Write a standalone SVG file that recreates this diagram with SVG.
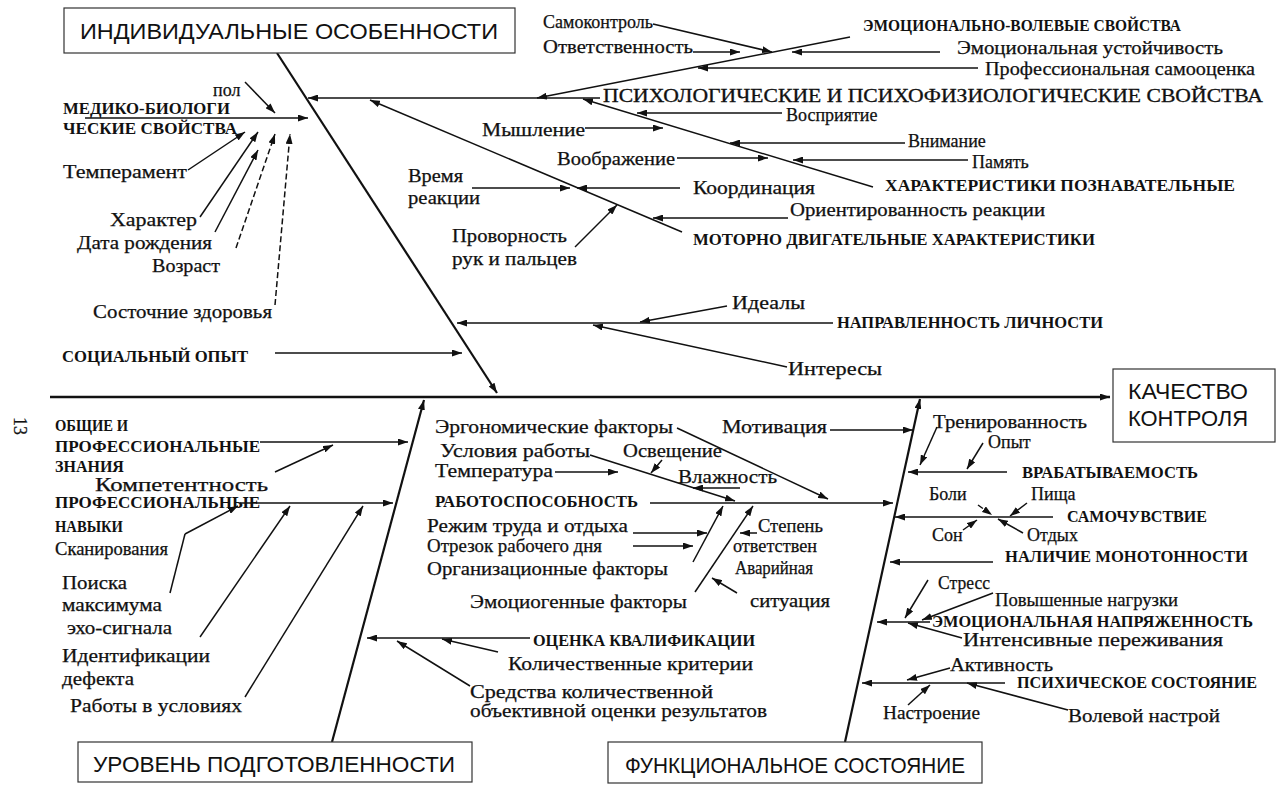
<svg xmlns="http://www.w3.org/2000/svg" width="1277" height="787" viewBox="0 0 1277 787">
<defs>
<marker id="ar" viewBox="0 0 10 7" refX="10" refY="3.5" markerWidth="10" markerHeight="7" markerUnits="userSpaceOnUse" orient="auto"><path d="M0,0 L10,3.5 L0,7 z" fill="#111"/></marker>
<style>
.t{font-family:"Liberation Serif","Times New Roman",serif;font-size:18px;fill:#111;stroke:#111;stroke-width:0.25}
.c{font-family:"Liberation Serif","Times New Roman",serif;font-size:16px;font-weight:bold;fill:#111}
.big{font-family:"Liberation Serif","Times New Roman",serif;font-size:18px;fill:#111;stroke:#111;stroke-width:0.3}
.bt{font-family:"Liberation Sans",Arial,sans-serif;font-size:22px;fill:#111}
.box{fill:#fff;stroke:#333;stroke-width:1.2}
.ln{stroke:#111;stroke-width:1.5;fill:none}
.bone{stroke:#111;stroke-width:2.2;fill:none}
.sp{stroke:#111;stroke-width:2.6;fill:none}
.d{stroke-dasharray:6 3}
</style>
</defs>
<rect width="1277" height="787" fill="#fff"/>

<g id="connectors">
<line class="sp" x1="50" y1="397" x2="1110" y2="397" marker-end="url(#ar)"/>
<line class="bone" x1="277" y1="53" x2="497" y2="393" marker-end="url(#ar)"/>
<line class="bone" x1="332" y1="742" x2="424" y2="400" marker-end="url(#ar)"/>
<line class="bone" x1="845" y1="742" x2="920" y2="399" marker-end="url(#ar)"/>

<line class="ln" x1="85" y1="118" x2="308" y2="118" marker-end="url(#ar)"/>
<line class="ln" x1="245" y1="82" x2="275" y2="113" marker-end="url(#ar)"/>
<line class="ln" x1="188" y1="170" x2="245" y2="132" marker-end="url(#ar)"/>
<line class="ln" x1="200" y1="217" x2="258" y2="132" marker-end="url(#ar)"/>
<line class="ln" x1="215" y1="232" x2="258" y2="150" marker-end="url(#ar)"/>
<line class="ln d" x1="236" y1="248" x2="275" y2="134" marker-end="url(#ar)"/>
<line class="ln d" x1="275" y1="305" x2="290" y2="134" marker-end="url(#ar)"/>
<line class="ln" x1="275" y1="353" x2="462" y2="353" marker-end="url(#ar)"/>

<line class="ln" x1="600" y1="98" x2="308" y2="98" marker-end="url(#ar)"/>
<line class="ln" x1="850" y1="37" x2="537" y2="98" marker-end="url(#ar)"/>
<line class="ln" x1="653" y1="24" x2="772" y2="52" marker-end="url(#ar)"/>
<line class="ln" x1="693" y1="52" x2="740" y2="52" marker-end="url(#ar)"/>
<line class="ln" x1="940" y1="52" x2="792" y2="52" marker-end="url(#ar)"/>
<line class="ln" x1="978" y1="68" x2="698" y2="68" marker-end="url(#ar)"/>
<line class="ln" x1="873" y1="187" x2="583" y2="99" marker-end="url(#ar)"/>
<line class="ln" x1="782" y1="113" x2="637" y2="113" marker-end="url(#ar)"/>
<line class="ln" x1="585" y1="128" x2="663" y2="128" marker-end="url(#ar)"/>
<line class="ln" x1="905" y1="143" x2="730" y2="143" marker-end="url(#ar)"/>
<line class="ln" x1="677" y1="158" x2="768" y2="158" marker-end="url(#ar)"/>
<line class="ln" x1="968" y1="160" x2="793" y2="160" marker-end="url(#ar)"/>
<line class="ln" x1="682" y1="232" x2="370" y2="100" marker-end="url(#ar)"/>
<line class="ln" x1="472" y1="188" x2="570" y2="188" marker-end="url(#ar)"/>
<line class="ln" x1="680" y1="188" x2="577" y2="188" marker-end="url(#ar)"/>
<line class="ln" x1="788" y1="218" x2="653" y2="218" marker-end="url(#ar)"/>
<line class="ln" x1="575" y1="247" x2="617" y2="205" marker-end="url(#ar)"/>
<line class="ln" x1="833" y1="323" x2="457" y2="323" marker-end="url(#ar)"/>
<line class="ln" x1="727" y1="306" x2="640" y2="322" marker-end="url(#ar)"/>
<line class="ln" x1="787" y1="367" x2="593" y2="325" marker-end="url(#ar)"/>

<line class="ln" x1="260" y1="442" x2="408" y2="442" marker-end="url(#ar)"/>
<line class="ln" x1="275" y1="472" x2="333" y2="445" marker-end="url(#ar)"/>
<line class="ln" x1="240" y1="503" x2="393" y2="503" marker-end="url(#ar)"/>
<line class="ln" x1="185" y1="534" x2="238" y2="506" marker-end="url(#ar)"/>
<line class="ln" x1="170" y1="593" x2="185" y2="534"/>
<line class="ln" x1="200" y1="637" x2="290" y2="506" marker-end="url(#ar)"/>
<line class="ln" x1="245" y1="697" x2="363" y2="506" marker-end="url(#ar)"/>
<line class="ln" x1="530" y1="638" x2="367" y2="638" marker-end="url(#ar)"/>
<line class="ln" x1="498" y1="652" x2="442" y2="639" marker-end="url(#ar)"/>
<line class="ln" x1="470" y1="686" x2="397" y2="641" marker-end="url(#ar)"/>

<line class="ln" x1="677" y1="428" x2="828" y2="499" marker-end="url(#ar)"/>
<line class="ln" x1="830" y1="430" x2="913" y2="430" marker-end="url(#ar)"/>
<line class="ln" x1="590" y1="455" x2="735" y2="501" marker-end="url(#ar)"/>
<line class="ln" x1="662" y1="460" x2="651" y2="473" marker-end="url(#ar)"/>
<line class="ln" x1="555" y1="472" x2="618" y2="472" marker-end="url(#ar)"/>
<line class="ln" x1="740" y1="488" x2="693" y2="488" marker-end="url(#ar)"/>
<line class="ln" x1="650" y1="503" x2="893" y2="503" marker-end="url(#ar)"/>
<line class="ln" x1="633" y1="533" x2="707" y2="533" marker-end="url(#ar)"/>
<line class="ln" x1="633" y1="546" x2="693" y2="546" marker-end="url(#ar)"/>
<line class="ln" x1="693" y1="562" x2="723" y2="506" marker-end="url(#ar)"/>
<line class="ln" x1="695" y1="592" x2="753" y2="506" marker-end="url(#ar)"/>
<line class="ln" x1="757" y1="533" x2="740" y2="533" marker-end="url(#ar)"/>
<line class="ln" x1="737" y1="593" x2="712" y2="578" marker-end="url(#ar)"/>

<line class="ln" x1="937" y1="427" x2="920" y2="465" marker-end="url(#ar)"/>
<line class="ln" x1="983" y1="443" x2="967" y2="469" marker-end="url(#ar)"/>
<line class="ln" x1="1007" y1="472" x2="908" y2="472" marker-end="url(#ar)"/>
<line class="ln d" x1="978" y1="505" x2="992" y2="515" marker-end="url(#ar)"/>
<line class="ln" x1="1027" y1="503" x2="1010" y2="516" marker-end="url(#ar)"/>
<line class="ln" x1="1053" y1="517" x2="895" y2="517" marker-end="url(#ar)"/>
<line class="ln" x1="963" y1="530" x2="977" y2="520" marker-end="url(#ar)"/>
<line class="ln" x1="1023" y1="533" x2="998" y2="519" marker-end="url(#ar)"/>
<line class="ln" x1="993" y1="562" x2="890" y2="562" marker-end="url(#ar)"/>
<line class="ln" x1="928" y1="580" x2="905" y2="618" marker-end="url(#ar)"/>
<line class="ln" x1="993" y1="593" x2="922" y2="620" marker-end="url(#ar)"/>
<line class="ln" x1="930" y1="622" x2="877" y2="622" marker-end="url(#ar)"/>
<line class="ln" x1="962" y1="638" x2="908" y2="623" marker-end="url(#ar)"/>
<line class="ln" x1="950" y1="668" x2="907" y2="680" marker-end="url(#ar)"/>
<line class="ln" x1="1005" y1="683" x2="862" y2="683" marker-end="url(#ar)"/>
<line class="ln" x1="908" y1="705" x2="930" y2="685" marker-end="url(#ar)"/>
<line class="ln" x1="1068" y1="710" x2="967" y2="683" marker-end="url(#ar)"/>
</g>

<g id="n-indiv"><rect class="box" x="64" y="8" width="451" height="45"/><text class="bt" x="80" y="39" textLength="418" lengthAdjust="spacingAndGlyphs">ИНДИВИДУАЛЬНЫЕ ОСОБЕННОСТИ</text></g>
<g id="n-kachestvo"><rect class="box" x="1113" y="369" width="162" height="73"/><text class="bt" x="1128" y="399" textLength="120" lengthAdjust="spacingAndGlyphs">КАЧЕСТВО</text><text class="bt" x="1128" y="426" textLength="120" lengthAdjust="spacingAndGlyphs">КОНТРОЛЯ</text></g>
<g id="n-uroven"><rect class="box" x="78" y="742" width="394" height="40"/><text class="bt" x="93" y="772" textLength="362" lengthAdjust="spacingAndGlyphs">УРОВЕНЬ ПОДГОТОВЛЕННОСТИ</text></g>
<g id="n-funk"><rect class="box" x="608" y="742" width="374" height="41"/><text class="bt" x="625" y="773" textLength="340" lengthAdjust="spacingAndGlyphs">ФУНКЦИОНАЛЬНОЕ СОСТОЯНИЕ</text></g>
<g id="page-num"><text class="t" x="12" y="431" font-size="20" transform="rotate(90 20 425)">13</text></g>

<g id="n-pol"><text class="t" x="213" y="96">пол</text></g>
<g id="n-medbio"><text class="c" x="63" y="114" textLength="167" lengthAdjust="spacingAndGlyphs">МЕДИКО-БИОЛОГИ</text><text class="c" x="63" y="134" textLength="174" lengthAdjust="spacingAndGlyphs">ЧЕСКИЕ СВОЙСТВА</text></g>
<g id="n-temperament"><text class="t" x="63" y="178" textLength="124" lengthAdjust="spacingAndGlyphs">Темперамент</text></g>
<g id="n-harakter"><text class="t" x="110" y="226" textLength="87" lengthAdjust="spacingAndGlyphs">Характер</text></g>
<g id="n-data"><text class="t" x="77" y="249" textLength="135" lengthAdjust="spacingAndGlyphs">Дата рождения</text></g>
<g id="n-vozrast"><text class="t" x="152" y="272" textLength="68" lengthAdjust="spacingAndGlyphs">Возраст</text></g>
<g id="n-zdorov"><text class="t" x="93" y="318" textLength="179" lengthAdjust="spacingAndGlyphs">Состочние здоровья</text></g>
<g id="n-social"><text class="c" x="62" y="362" textLength="186" lengthAdjust="spacingAndGlyphs">СОЦИАЛЬНЫЙ ОПЫТ</text></g>

<g id="n-samokontrol"><text class="t" x="543" y="28" textLength="110" lengthAdjust="spacingAndGlyphs">Самоконтроль</text></g>
<g id="n-otvetstv"><text class="t" x="543" y="53" textLength="150" lengthAdjust="spacingAndGlyphs">Ответственность</text></g>
<g id="n-emovol"><text class="c" x="863" y="31" textLength="318" lengthAdjust="spacingAndGlyphs">ЭМОЦИОНАЛЬНО-ВОЛЕВЫЕ СВОЙСТВА</text></g>
<g id="n-emoust"><text class="t" x="957" y="54" textLength="266" lengthAdjust="spacingAndGlyphs">Эмоциональная устойчивость</text></g>
<g id="n-samoocenka"><text class="t" x="985" y="75" textLength="270" lengthAdjust="spacingAndGlyphs">Профессиональная самооценка</text></g>
<g id="n-psych"><text class="big" x="603" y="102" textLength="660" lengthAdjust="spacingAndGlyphs">ПСИХОЛОГИЧЕСКИЕ И ПСИХОФИЗИОЛОГИЧЕСКИЕ СВОЙСТВА</text></g>
<g id="n-vospr"><text class="t" x="786" y="121">Восприятие</text></g>
<g id="n-myshl"><text class="t" x="482" y="136" textLength="103" lengthAdjust="spacingAndGlyphs">Мышление</text></g>
<g id="n-vniman"><text class="t" x="908" y="147">Внимание</text></g>
<g id="n-voobr"><text class="t" x="557" y="165" textLength="118" lengthAdjust="spacingAndGlyphs">Воображение</text></g>
<g id="n-pamyat"><text class="t" x="972" y="168">Память</text></g>
<g id="n-poznav"><text class="c" x="885" y="191" textLength="350" lengthAdjust="spacingAndGlyphs">ХАРАКТЕРИСТИКИ ПОЗНАВАТЕЛЬНЫЕ</text></g>
<g id="n-vremya"><text class="t" x="408" y="182" textLength="55" lengthAdjust="spacingAndGlyphs">Время</text><text class="t" x="408" y="204" textLength="72" lengthAdjust="spacingAndGlyphs">реакции</text></g>
<g id="n-koord"><text class="t" x="693" y="194" textLength="122" lengthAdjust="spacingAndGlyphs">Координация</text></g>
<g id="n-orient"><text class="t" x="790" y="216" textLength="255" lengthAdjust="spacingAndGlyphs">Ориентированность реакции</text></g>
<g id="n-provorn"><text class="t" x="452" y="242" textLength="115" lengthAdjust="spacingAndGlyphs">Проворность</text><text class="t" x="452" y="265" textLength="125" lengthAdjust="spacingAndGlyphs">рук и пальцев</text></g>
<g id="n-motor"><text class="c" x="693" y="245" textLength="402" lengthAdjust="spacingAndGlyphs">МОТОРНО ДВИГАТЕЛЬНЫЕ ХАРАКТЕРИСТИКИ</text></g>
<g id="n-idealy"><text class="t" x="732" y="309" textLength="73" lengthAdjust="spacingAndGlyphs">Идеалы</text></g>
<g id="n-napravl"><text class="c" x="837" y="328" textLength="266" lengthAdjust="spacingAndGlyphs">НАПРАВЛЕННОСТЬ ЛИЧНОСТИ</text></g>
<g id="n-interesy"><text class="t" x="788" y="375" textLength="94" lengthAdjust="spacingAndGlyphs">Интересы</text></g>

<g id="n-znaniya"><text class="c" x="55" y="431" textLength="73" lengthAdjust="spacingAndGlyphs">ОБЩИЕ И</text><text class="c" x="55" y="452" textLength="205" lengthAdjust="spacingAndGlyphs">ПРОФЕССИОНАЛЬНЫЕ</text><text class="c" x="55" y="472">ЗНАНИЯ</text></g>
<g id="n-kompet"><text class="t" x="95" y="491" textLength="173" lengthAdjust="spacingAndGlyphs">Компетентность</text></g>
<g id="n-navyki"><text class="c" x="55" y="508" textLength="205" lengthAdjust="spacingAndGlyphs">ПРОФЕССИОНАЛЬНЫЕ</text><text class="c" x="55" y="532" textLength="68" lengthAdjust="spacingAndGlyphs">НАВЫКИ</text></g>
<g id="n-skan"><text class="t" x="55" y="555" textLength="113" lengthAdjust="spacingAndGlyphs">Сканирования</text></g>
<g id="n-poiska"><text class="t" x="62" y="589" textLength="65" lengthAdjust="spacingAndGlyphs">Поиска</text><text class="t" x="62" y="611" textLength="100" lengthAdjust="spacingAndGlyphs">максимума</text><text class="t" x="67" y="634" textLength="105" lengthAdjust="spacingAndGlyphs">эхо-сигнала</text></g>
<g id="n-ident"><text class="t" x="62" y="662" textLength="148" lengthAdjust="spacingAndGlyphs">Идентификации</text><text class="t" x="62" y="685" textLength="72" lengthAdjust="spacingAndGlyphs">дефекта</text></g>
<g id="n-raboty"><text class="t" x="70" y="712" textLength="172" lengthAdjust="spacingAndGlyphs">Работы в условиях</text></g>
<g id="n-ocenka"><text class="c" x="533" y="646" textLength="222" lengthAdjust="spacingAndGlyphs">ОЦЕНКА КВАЛИФИКАЦИИ</text></g>
<g id="n-kolkrit"><text class="t" x="508" y="670" textLength="245" lengthAdjust="spacingAndGlyphs">Количественные критерии</text></g>
<g id="n-sredstva"><text class="t" x="470" y="698" textLength="243" lengthAdjust="spacingAndGlyphs">Средства количественной</text><text class="t" x="470" y="717" textLength="297" lengthAdjust="spacingAndGlyphs">объективной оценки результатов</text></g>

<g id="n-ergo"><text class="t" x="435" y="433" textLength="238" lengthAdjust="spacingAndGlyphs">Эргономические факторы</text></g>
<g id="n-motiv"><text class="t" x="722" y="433" textLength="105" lengthAdjust="spacingAndGlyphs">Мотивация</text></g>
<g id="n-usloviya"><text class="t" x="440" y="457" textLength="150" lengthAdjust="spacingAndGlyphs">Условия работы</text></g>
<g id="n-osvesh"><text class="t" x="623" y="457" textLength="99" lengthAdjust="spacingAndGlyphs">Освещение</text></g>
<g id="n-temper"><text class="t" x="435" y="477" textLength="118" lengthAdjust="spacingAndGlyphs">Температура</text></g>
<g id="n-vlazh"><text class="t" x="678" y="483" textLength="99" lengthAdjust="spacingAndGlyphs">Влажность</text></g>
<g id="n-rabotosp"><text class="c" x="435" y="507" textLength="203" lengthAdjust="spacingAndGlyphs">РАБОТОСПОСОБНОСТЬ</text></g>
<g id="n-rezhim"><text class="t" x="427" y="532" textLength="201" lengthAdjust="spacingAndGlyphs">Режим труда и отдыха</text></g>
<g id="n-otrezok"><text class="t" x="427" y="552" textLength="175" lengthAdjust="spacingAndGlyphs">Отрезок рабочего дня</text></g>
<g id="n-organiz"><text class="t" x="427" y="575" textLength="241" lengthAdjust="spacingAndGlyphs">Организационные факторы</text></g>
<g id="n-emocgen"><text class="t" x="470" y="608" textLength="217" lengthAdjust="spacingAndGlyphs">Эмоциогенные факторы</text></g>
<g id="n-stepen"><text class="t" x="758" y="532" textLength="65" lengthAdjust="spacingAndGlyphs">Степень</text><text class="t" x="733" y="552" textLength="84" lengthAdjust="spacingAndGlyphs">ответствен</text></g>
<g id="n-avar"><text class="t" x="735" y="574" textLength="78" lengthAdjust="spacingAndGlyphs">Аварийная</text><text class="t" x="750" y="607" textLength="80" lengthAdjust="spacingAndGlyphs">ситуация</text></g>

<g id="n-trenir"><text class="t" x="933" y="428" textLength="154" lengthAdjust="spacingAndGlyphs">Тренированность</text></g>
<g id="n-opyt"><text class="t" x="988" y="448">Опыт</text></g>
<g id="n-vrabat"><text class="c" x="1022" y="478" textLength="176" lengthAdjust="spacingAndGlyphs">ВРАБАТЫВАЕМОСТЬ</text></g>
<g id="n-boli"><text class="t" x="929" y="500">Боли</text></g>
<g id="n-pischa"><text class="t" x="1031" y="500">Пища</text></g>
<g id="n-samoch"><text class="c" x="1067" y="522" textLength="140" lengthAdjust="spacingAndGlyphs">САМОЧУВСТВИЕ</text></g>
<g id="n-son"><text class="t" x="932" y="541">Сон</text></g>
<g id="n-otdyh"><text class="t" x="1027" y="541">Отдых</text></g>
<g id="n-monot"><text class="c" x="1005" y="562" textLength="243" lengthAdjust="spacingAndGlyphs">НАЛИЧИЕ МОНОТОННОСТИ</text></g>
<g id="n-stress"><text class="t" x="938" y="589" textLength="52" lengthAdjust="spacingAndGlyphs">Стресс</text></g>
<g id="n-povysh"><text class="t" x="995" y="606" textLength="183" lengthAdjust="spacingAndGlyphs">Повышенные нагрузки</text></g>
<g id="n-emonapr"><text class="c" x="932" y="627" textLength="321" lengthAdjust="spacingAndGlyphs">ЭМОЦИОНАЛЬНАЯ НАПРЯЖЕННОСТЬ</text></g>
<g id="n-intens"><text class="t" x="963" y="646" textLength="260" lengthAdjust="spacingAndGlyphs">Интенсивные переживания</text></g>
<g id="n-aktiv"><text class="t" x="950" y="671" textLength="103" lengthAdjust="spacingAndGlyphs">Активность</text></g>
<g id="n-psihsost"><text class="c" x="1017" y="688" textLength="240" lengthAdjust="spacingAndGlyphs">ПСИХИЧЕСКОЕ СОСТОЯНИЕ</text></g>
<g id="n-nastr"><text class="t" x="883" y="719" textLength="97" lengthAdjust="spacingAndGlyphs">Настроение</text></g>
<g id="n-volevoy"><text class="t" x="1068" y="722" textLength="152" lengthAdjust="spacingAndGlyphs">Волевой настрой</text></g>
</svg>
